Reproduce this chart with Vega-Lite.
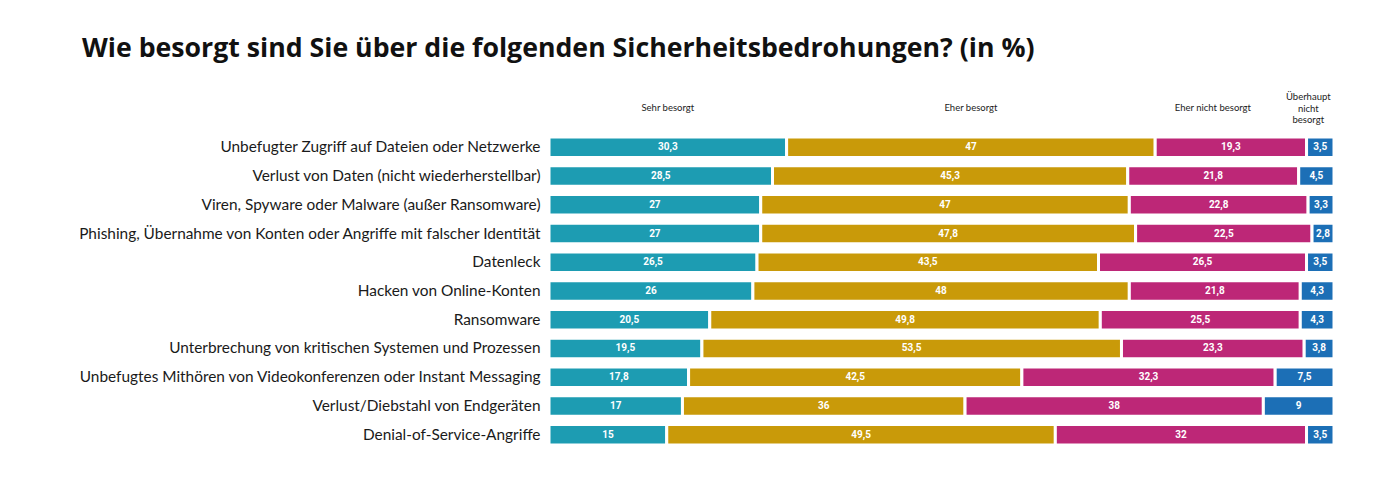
{
  "$schema": "https://vega.github.io/schema/vega-lite/v6.json",
  "width": 785,
  "height": 316,
  "autosize": {"type": "none"},
  "padding": {"left": 549, "top": 133, "right": 52, "bottom": 43},
  "background": "white",
  "config": {
    "view": {"stroke": null},
    "locale": {"number": {"decimal": ",", "thousands": ".", "grouping": [3], "currency": ["", " €"]}}
  },
  "title": {
    "text": "Wie besorgt sind Sie über die folgenden Sicherheitsbedrohungen? (in %)",
    "anchor": "start",
    "frame": "group",
    "dx": -467,
    "offset": 8,
    "baseline": "alphabetic",
    "font": "Open Sans",
    "fontSize": 26.7,
    "fontWeight": "bold",
    "color": "#111111"
  },
  "datasets": {
    "main": [
      {"item": "Unbefugter Zugriff auf Dateien oder Netzwerke", "category": "Sehr besorgt", "rank": 1, "value": 30.3},
      {"item": "Unbefugter Zugriff auf Dateien oder Netzwerke", "category": "Eher besorgt", "rank": 2, "value": 47},
      {"item": "Unbefugter Zugriff auf Dateien oder Netzwerke", "category": "Eher nicht besorgt", "rank": 3, "value": 19.3},
      {"item": "Unbefugter Zugriff auf Dateien oder Netzwerke", "category": "Überhaupt nicht besorgt", "rank": 4, "value": 3.5},
      {"item": "Verlust von Daten (nicht wiederherstellbar)", "category": "Sehr besorgt", "rank": 1, "value": 28.5},
      {"item": "Verlust von Daten (nicht wiederherstellbar)", "category": "Eher besorgt", "rank": 2, "value": 45.3},
      {"item": "Verlust von Daten (nicht wiederherstellbar)", "category": "Eher nicht besorgt", "rank": 3, "value": 21.8},
      {"item": "Verlust von Daten (nicht wiederherstellbar)", "category": "Überhaupt nicht besorgt", "rank": 4, "value": 4.5},
      {"item": "Viren, Spyware oder Malware (außer Ransomware)", "category": "Sehr besorgt", "rank": 1, "value": 27},
      {"item": "Viren, Spyware oder Malware (außer Ransomware)", "category": "Eher besorgt", "rank": 2, "value": 47},
      {"item": "Viren, Spyware oder Malware (außer Ransomware)", "category": "Eher nicht besorgt", "rank": 3, "value": 22.8},
      {"item": "Viren, Spyware oder Malware (außer Ransomware)", "category": "Überhaupt nicht besorgt", "rank": 4, "value": 3.3},
      {"item": "Phishing, Übernahme von Konten oder Angriffe mit falscher Identität", "category": "Sehr besorgt", "rank": 1, "value": 27},
      {"item": "Phishing, Übernahme von Konten oder Angriffe mit falscher Identität", "category": "Eher besorgt", "rank": 2, "value": 47.8},
      {"item": "Phishing, Übernahme von Konten oder Angriffe mit falscher Identität", "category": "Eher nicht besorgt", "rank": 3, "value": 22.5},
      {"item": "Phishing, Übernahme von Konten oder Angriffe mit falscher Identität", "category": "Überhaupt nicht besorgt", "rank": 4, "value": 2.8},
      {"item": "Datenleck", "category": "Sehr besorgt", "rank": 1, "value": 26.5},
      {"item": "Datenleck", "category": "Eher besorgt", "rank": 2, "value": 43.5},
      {"item": "Datenleck", "category": "Eher nicht besorgt", "rank": 3, "value": 26.5},
      {"item": "Datenleck", "category": "Überhaupt nicht besorgt", "rank": 4, "value": 3.5},
      {"item": "Hacken von Online-Konten", "category": "Sehr besorgt", "rank": 1, "value": 26},
      {"item": "Hacken von Online-Konten", "category": "Eher besorgt", "rank": 2, "value": 48},
      {"item": "Hacken von Online-Konten", "category": "Eher nicht besorgt", "rank": 3, "value": 21.8},
      {"item": "Hacken von Online-Konten", "category": "Überhaupt nicht besorgt", "rank": 4, "value": 4.3},
      {"item": "Ransomware", "category": "Sehr besorgt", "rank": 1, "value": 20.5},
      {"item": "Ransomware", "category": "Eher besorgt", "rank": 2, "value": 49.8},
      {"item": "Ransomware", "category": "Eher nicht besorgt", "rank": 3, "value": 25.5},
      {"item": "Ransomware", "category": "Überhaupt nicht besorgt", "rank": 4, "value": 4.3},
      {"item": "Unterbrechung von kritischen Systemen und Prozessen", "category": "Sehr besorgt", "rank": 1, "value": 19.5},
      {"item": "Unterbrechung von kritischen Systemen und Prozessen", "category": "Eher besorgt", "rank": 2, "value": 53.5},
      {"item": "Unterbrechung von kritischen Systemen und Prozessen", "category": "Eher nicht besorgt", "rank": 3, "value": 23.3},
      {"item": "Unterbrechung von kritischen Systemen und Prozessen", "category": "Überhaupt nicht besorgt", "rank": 4, "value": 3.8},
      {"item": "Unbefugtes Mithören von Videokonferenzen oder Instant Messaging", "category": "Sehr besorgt", "rank": 1, "value": 17.8},
      {"item": "Unbefugtes Mithören von Videokonferenzen oder Instant Messaging", "category": "Eher besorgt", "rank": 2, "value": 42.5},
      {"item": "Unbefugtes Mithören von Videokonferenzen oder Instant Messaging", "category": "Eher nicht besorgt", "rank": 3, "value": 32.3},
      {"item": "Unbefugtes Mithören von Videokonferenzen oder Instant Messaging", "category": "Überhaupt nicht besorgt", "rank": 4, "value": 7.5},
      {"item": "Verlust/Diebstahl von Endgeräten", "category": "Sehr besorgt", "rank": 1, "value": 17},
      {"item": "Verlust/Diebstahl von Endgeräten", "category": "Eher besorgt", "rank": 2, "value": 36},
      {"item": "Verlust/Diebstahl von Endgeräten", "category": "Eher nicht besorgt", "rank": 3, "value": 38},
      {"item": "Verlust/Diebstahl von Endgeräten", "category": "Überhaupt nicht besorgt", "rank": 4, "value": 9},
      {"item": "Denial-of-Service-Angriffe", "category": "Sehr besorgt", "rank": 1, "value": 15},
      {"item": "Denial-of-Service-Angriffe", "category": "Eher besorgt", "rank": 2, "value": 49.5},
      {"item": "Denial-of-Service-Angriffe", "category": "Eher nicht besorgt", "rank": 3, "value": 32},
      {"item": "Denial-of-Service-Angriffe", "category": "Überhaupt nicht besorgt", "rank": 4, "value": 3.5}
    ]
  },
  "data": {"name": "main"},
  "encoding": {
    "y": {
      "field": "item",
      "type": "nominal",
      "sort": null,
      "scale": {"paddingInner": 0.286, "paddingOuter": 0.143},
      "axis": {
        "title": null,
        "domain": false,
        "ticks": false,
        "labelPadding": 9,
        "labelLimit": 700,
        "labelFont": "Lato",
        "labelFontSize": 15.4,
        "labelColor": "#1a1a1a"
      }
    },
    "x": {
      "field": "value",
      "type": "quantitative",
      "stack": "normalize",
      "axis": null,
      "scale": {"nice": false}
    },
    "order": {"field": "rank", "type": "quantitative"}
  },
  "layer": [
    {
      "mark": {"type": "bar", "stroke": "white", "strokeWidth": 3},
      "encoding": {
        "color": {
          "field": "category",
          "type": "nominal",
          "legend": null,
          "scale": {
            "domain": ["Sehr besorgt", "Eher besorgt", "Eher nicht besorgt", "Überhaupt nicht besorgt"],
            "range": ["#1d9cb2", "#c99a09", "#bd2777", "#1c6fb6"]
          }
        }
      }
    },
    {
      "mark": {"type": "text", "font": "Roboto", "fontWeight": "bold", "fontSize": 10, "fill": "white", "baseline": "middle", "align": "center"},
      "encoding": {
        "x": {"field": "value", "type": "quantitative", "stack": "normalize", "bandPosition": 0.5},
        "text": {"field": "value", "type": "quantitative", "format": ".1~f"}
      }
    },
    {
      "mark": {"type": "text", "font": "Lato", "fontSize": 9.5, "fill": "#222222", "baseline": "middle", "align": "center", "dy": -39},
      "encoding": {
        "x": {"field": "value", "type": "quantitative", "stack": "normalize", "bandPosition": 0.5},
        "text": {
          "condition": {"test": "datum.item === 'Unbefugter Zugriff auf Dateien oder Netzwerke' && datum.rank <= 2", "field": "category"},
          "value": ""
        }
      }
    },
    {
      "mark": {"type": "text", "font": "Lato", "fontSize": 9.5, "fill": "#222222", "baseline": "middle", "align": "center", "dy": -39, "dx": -18},
      "encoding": {
        "x": {"field": "value", "type": "quantitative", "stack": "normalize", "bandPosition": 0.5},
        "text": {
          "condition": {"test": "datum.item === 'Unbefugter Zugriff auf Dateien oder Netzwerke' && datum.rank === 3", "field": "category"},
          "value": ""
        }
      }
    },
    {
      "mark": {"type": "text", "font": "Lato", "fontSize": 9.5, "fill": "#222222", "baseline": "middle", "align": "center", "dy": -50.5, "dx": -12, "lineBreak": " ", "lineHeight": 11.7},
      "encoding": {
        "x": {"field": "value", "type": "quantitative", "stack": "normalize", "bandPosition": 0.5},
        "text": {
          "condition": {"test": "datum.item === 'Unbefugter Zugriff auf Dateien oder Netzwerke' && datum.rank === 4", "field": "category"},
          "value": ""
        }
      }
    }
  ]
}
